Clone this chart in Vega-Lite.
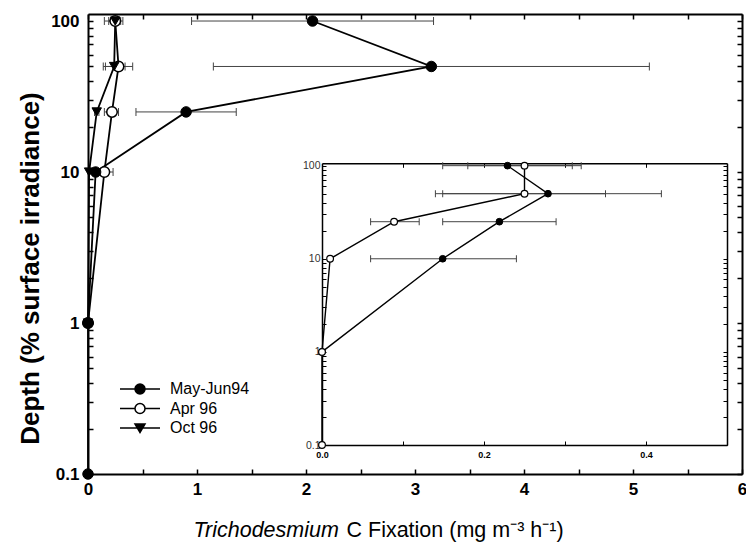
{
  "$schema": "https://vega.github.io/schema/vega-lite/v6.json",
  "width": 654,
  "height": 460,
  "autosize": "none",
  "padding": {"left": 88, "top": 14, "right": 4, "bottom": 81},
  "background": "white",
  "config": {
    "view": {"stroke": null},
    "font": "Liberation Sans",
    "axis": {"domainColor": "black", "tickColor": "black", "labelColor": "black", "titleColor": "black", "grid": false, "labelFlush": false, "labelOverlap": false}
  },
  "datasets": {
    "main": [
      {"series": "May-Jun94", "depth": 100, "value": 2.06, "lo": 0.95, "hi": 3.17},
      {"series": "May-Jun94", "depth": 50, "value": 3.15, "lo": 1.15, "hi": 5.15},
      {"series": "May-Jun94", "depth": 25, "value": 0.9, "lo": 0.44, "hi": 1.36},
      {"series": "May-Jun94", "depth": 10, "value": 0.07},
      {"series": "May-Jun94", "depth": 1, "value": 0},
      {"series": "May-Jun94", "depth": 0.1, "value": 0},
      {"series": "Apr 96", "depth": 100, "value": 0.25, "lo": 0.19, "hi": 0.32},
      {"series": "Apr 96", "depth": 50, "value": 0.28, "lo": 0.16, "hi": 0.41},
      {"series": "Apr 96", "depth": 25, "value": 0.22, "lo": 0.15, "hi": 0.28},
      {"series": "Apr 96", "depth": 10, "value": 0.15, "lo": 0.07, "hi": 0.23},
      {"series": "Apr 96", "depth": 1, "value": 0},
      {"series": "Oct 96", "depth": 100, "value": 0.25, "lo": 0.15, "hi": 0.3},
      {"series": "Oct 96", "depth": 50, "value": 0.24, "lo": 0.14, "hi": 0.34},
      {"series": "Oct 96", "depth": 25, "value": 0.08, "lo": 0.06, "hi": 0.1},
      {"series": "Oct 96", "depth": 10, "value": 0.01},
      {"series": "Oct 96", "depth": 1, "value": 0}
    ],
    "inset": [
      {"series": "filled", "depth": 100, "value": 0.229, "lo": 0.149, "hi": 0.309},
      {"series": "filled", "depth": 50, "value": 0.279, "lo": 0.149, "hi": 0.419},
      {"series": "filled", "depth": 25, "value": 0.219, "lo": 0.149, "hi": 0.289},
      {"series": "filled", "depth": 10, "value": 0.149, "lo": 0.06, "hi": 0.24},
      {"series": "filled", "depth": 1, "value": 0},
      {"series": "open", "depth": 100, "value": 0.25, "lo": 0.18, "hi": 0.32},
      {"series": "open", "depth": 50, "value": 0.25, "lo": 0.14, "hi": 0.35},
      {"series": "open", "depth": 25, "value": 0.089, "lo": 0.06, "hi": 0.12},
      {"series": "open", "depth": 10, "value": 0.01},
      {"series": "open", "depth": 1, "value": 0},
      {"series": "open", "depth": 0.1, "value": 0}
    ]
  },
  "layer": [
    {
      "data": {"name": "main"},
      "encoding": {
        "x": {
          "field": "value", "type": "quantitative",
          "scale": {"domain": [0, 6], "nice": false, "zero": false},
          "axis": {
            "orient": "bottom",
            "values": [0, 0.5, 1, 1.5, 2, 2.5, 3, 3.5, 4, 4.5, 5, 5.5, 6],
            "labelExpr": "datum.value % 1 == 0 ? format(datum.value, 'd') : ''",
            "tickSize": -5, "tickWidth": 1.5, "labelPadding": 12, "labelFontSize": 17, "labelFontWeight": "bold",
            "domainWidth": 2,
            "title": "C Fixation (mg m⁻³ h⁻¹)", "titleFontSize": 21.5, "titleFontWeight": "normal",
            "titleX": 258, "titleY": 62, "titleAlign": "left", "titleBaseline": "alphabetic"
          }
        },
        "y": {
          "field": "depth", "type": "quantitative",
          "scale": {"type": "log", "domain": [0.1, 111.3], "nice": false},
          "axis": {
            "orient": "left",
            "values": [0.1, 0.2, 0.3, 0.4, 0.5, 0.6, 0.7, 0.8, 0.9, 1, 2, 3, 4, 5, 6, 7, 8, 9, 10, 20, 30, 40, 50, 60, 70, 80, 90, 100],
            "labelExpr": "(datum.value == 0.1 || datum.value == 1 || datum.value == 10 || datum.value == 100) ? format(datum.value, '~g') : ''",
            "tickSize": -5, "tickWidth": 1.5, "labelPadding": 14, "labelFontSize": 17, "labelFontWeight": "bold",
            "domainWidth": 2,
            "title": "Depth (% surface irradiance)", "titleFontSize": 26, "titleFontWeight": "bold",
            "titleX": -58, "titleY": 254, "titleAlign": "center", "titleBaseline": "middle", "titleAngle": -90
          }
        }
      },
      "layer": [
        {
          "transform": [{"filter": "isValid(datum.lo)"}],
          "mark": {"type": "rule", "color": "#444", "strokeWidth": 1},
          "encoding": {"x": {"field": "lo", "type": "quantitative"}, "x2": {"field": "hi"}}
        },
        {
          "transform": [{"filter": "isValid(datum.lo)"}],
          "mark": {"type": "tick", "orient": "vertical", "size": 8, "thickness": 1, "color": "#444", "opacity": 1},
          "encoding": {"x": {"field": "lo", "type": "quantitative"}}
        },
        {
          "transform": [{"filter": "isValid(datum.hi)"}],
          "mark": {"type": "tick", "orient": "vertical", "size": 8, "thickness": 1, "color": "#444", "opacity": 1},
          "encoding": {"x": {"field": "hi", "type": "quantitative"}}
        },
        {
          "mark": {"type": "line", "color": "black", "strokeWidth": 1.8},
          "encoding": {"detail": {"field": "series"}, "order": {"field": "depth", "type": "quantitative"}}
        },
        {
          "transform": [{"filter": "datum.series == 'Apr 96'"}],
          "mark": {"type": "point", "shape": "circle", "filled": true, "fill": "white", "stroke": "black", "strokeWidth": 1.5, "size": 110, "opacity": 1}
        },
        {
          "transform": [{"filter": "datum.series == 'Oct 96'"}],
          "mark": {"type": "point", "shape": "triangle-down", "filled": true, "fill": "black", "stroke": "black", "strokeWidth": 1, "size": 90, "opacity": 1}
        },
        {
          "transform": [{"filter": "datum.series == 'May-Jun94'"}],
          "mark": {"type": "point", "shape": "circle", "filled": true, "fill": "black", "stroke": "black", "strokeWidth": 1, "size": 110, "opacity": 1}
        }
      ]
    },
    {
      "data": {"name": "main"},
      "transform": [{"filter": "false"}],
      "mark": {"type": "point", "filled": true, "strokeWidth": 1.5, "opacity": 1},
      "encoding": {
        "x": {
          "field": "value", "type": "quantitative",
          "scale": {"domain": [0, 6], "nice": false, "zero": false},
          "axis": {"orient": "top", "values": [0, 0.5, 1, 1.5, 2, 2.5, 3, 3.5, 4, 4.5, 5, 5.5, 6], "labels": false, "tickSize": -5, "tickWidth": 1.5, "domainWidth": 2, "title": null}
        },
        "y": {
          "field": "depth", "type": "quantitative",
          "scale": {"type": "log", "domain": [0.1, 111.3], "nice": false},
          "axis": {"orient": "right", "values": [0.1, 0.2, 0.3, 0.4, 0.5, 0.6, 0.7, 0.8, 0.9, 1, 2, 3, 4, 5, 6, 7, 8, 9, 10, 20, 30, 40, 50, 60, 70, 80, 90, 100], "labels": false, "tickSize": -5, "tickWidth": 1.5, "domainWidth": 2, "title": null}
        },
        "shape": {
          "field": "series", "type": "nominal",
          "scale": {"domain": ["May-Jun94", "Apr 96", "Oct 96"], "range": ["M-4,0L-1,0M1,0L4,0M-1,0A1,1,0,1,1,1,0A1,1,0,1,1,-1,0Z", "M-4,0L-1,0M1,0L4,0M-1,0A1,1,0,1,1,1,0A1,1,0,1,1,-1,0Z", "M-4,0L4,0M-1,-0.8L1,-0.8L0,0.9Z"]},
          "legend": {"orient": "none", "legendX": 44, "legendY": 367, "title": null, "symbolSize": 100, "symbolStrokeWidth": 1.5, "labelFontSize": 16, "labelOffset": 22, "rowPadding": 3.5, "labelColor": "black"}
        },
        "fill": {
          "field": "series", "type": "nominal",
          "scale": {"domain": ["May-Jun94", "Apr 96", "Oct 96"], "range": ["black", "white", "black"]},
          "legend": {"orient": "none", "legendX": 44, "legendY": 367, "title": null, "symbolSize": 100, "symbolStrokeWidth": 1.5, "labelFontSize": 16, "labelOffset": 22, "rowPadding": 3.5, "labelColor": "black"}
        },
        "stroke": {
          "field": "series", "type": "nominal",
          "scale": {"domain": ["May-Jun94", "Apr 96", "Oct 96"], "range": ["black", "black", "black"]},
          "legend": {"orient": "none", "legendX": 44, "legendY": 367, "title": null, "symbolSize": 100, "symbolStrokeWidth": 1.5, "labelFontSize": 16, "labelOffset": 22, "rowPadding": 3.5, "labelColor": "black"}
        }
      }
    },
    {
      "data": {"name": "inset"},
      "encoding": {
        "x": {
          "field": "value", "type": "quantitative",
          "scale": {"domain": [0, 0.5], "range": [234, 639], "nice": false, "zero": false},
          "axis": {
            "orient": "bottom", "offset": -29,
            "values": [0, 0.1, 0.2, 0.3, 0.4, 0.5],
            "labelExpr": "(datum.value == 0 || datum.value == 0.2 || datum.value == 0.4) ? format(datum.value, '.1f') : ''",
            "tickSize": -4, "labelPadding": 9, "labelFontSize": 9, "labelFontWeight": "bold",
            "domainWidth": 1.5, "title": null
          }
        },
        "y": {
          "field": "depth", "type": "quantitative",
          "scale": {"type": "log", "domain": [0.1, 106], "range": [431, 149.3], "nice": false},
          "axis": {
            "orient": "left", "offset": -234,
            "values": [0.1, 0.2, 0.3, 0.4, 0.5, 0.6, 0.7, 0.8, 0.9, 1, 2, 3, 4, 5, 6, 7, 8, 9, 10, 20, 30, 40, 50, 60, 70, 80, 90, 100],
            "labelExpr": "(datum.value == 0.1 || datum.value == 1 || datum.value == 10 || datum.value == 100) ? format(datum.value, '~g') : ''",
            "tickSize": -4, "labelPadding": 6, "labelFontSize": 10.5, "labelColor": "#333",
            "domainWidth": 1.5, "title": null
          }
        }
      },
      "layer": [
        {
          "transform": [{"filter": "isValid(datum.lo)"}],
          "mark": {"type": "rule", "color": "#444", "strokeWidth": 1},
          "encoding": {"x": {"field": "lo", "type": "quantitative"}, "x2": {"field": "hi"}}
        },
        {
          "transform": [{"filter": "isValid(datum.lo)"}],
          "mark": {"type": "tick", "orient": "vertical", "size": 7, "thickness": 1, "color": "#444", "opacity": 1},
          "encoding": {"x": {"field": "lo", "type": "quantitative"}}
        },
        {
          "transform": [{"filter": "isValid(datum.hi)"}],
          "mark": {"type": "tick", "orient": "vertical", "size": 7, "thickness": 1, "color": "#444", "opacity": 1},
          "encoding": {"x": {"field": "hi", "type": "quantitative"}}
        },
        {
          "mark": {"type": "line", "color": "black", "strokeWidth": 1.4},
          "encoding": {"detail": {"field": "series"}, "order": {"field": "depth", "type": "quantitative"}}
        },
        {
          "transform": [{"filter": "datum.series == 'filled'"}],
          "mark": {"type": "point", "shape": "circle", "filled": true, "fill": "black", "stroke": "black", "strokeWidth": 1, "size": 45, "opacity": 1}
        },
        {
          "transform": [{"filter": "datum.series == 'open'"}],
          "mark": {"type": "point", "shape": "circle", "filled": true, "fill": "white", "stroke": "black", "strokeWidth": 1.2, "size": 45, "opacity": 1}
        }
      ]
    },
    {
      "data": {"name": "inset"},
      "transform": [{"filter": "false"}],
      "mark": {"type": "point", "opacity": 0},
      "encoding": {
        "x": {
          "field": "value", "type": "quantitative",
          "scale": {"domain": [0, 0.5], "range": [234, 639], "nice": false, "zero": false},
          "axis": {"orient": "top", "offset": -149.3, "values": [0, 0.1, 0.2, 0.3, 0.4, 0.5], "labels": false, "tickSize": -4, "domainWidth": 1.5, "title": null}
        },
        "y": {
          "field": "depth", "type": "quantitative",
          "scale": {"type": "log", "domain": [0.1, 106], "range": [431, 149.3], "nice": false},
          "axis": {"orient": "right", "offset": -15, "values": [0.1, 0.2, 0.3, 0.4, 0.5, 0.6, 0.7, 0.8, 0.9, 1, 2, 3, 4, 5, 6, 7, 8, 9, 10, 20, 30, 40, 50, 60, 70, 80, 90, 100], "labels": false, "tickSize": -4, "domainWidth": 1.5, "title": null}
        }
      }
    },
    {
      "data": {"name": "main"},
      "transform": [{"filter": "false"}],
      "mark": {"type": "point", "opacity": 0},
      "encoding": {
        "x": {
          "field": "value", "type": "quantitative",
          "scale": {"domain": [0, 6], "nice": false, "zero": false},
          "axis": {"orient": "bottom", "domain": false, "ticks": false, "labels": false,
                   "title": "Trichodesmium", "titleFontSize": 21.5, "titleFontWeight": "normal", "titleFontStyle": "italic",
                   "titleX": 105, "titleY": 62, "titleAlign": "left", "titleBaseline": "alphabetic"}
        }
      }
    }
  ],
  "resolve": {"scale": {"x": "independent", "y": "independent"}}
}
